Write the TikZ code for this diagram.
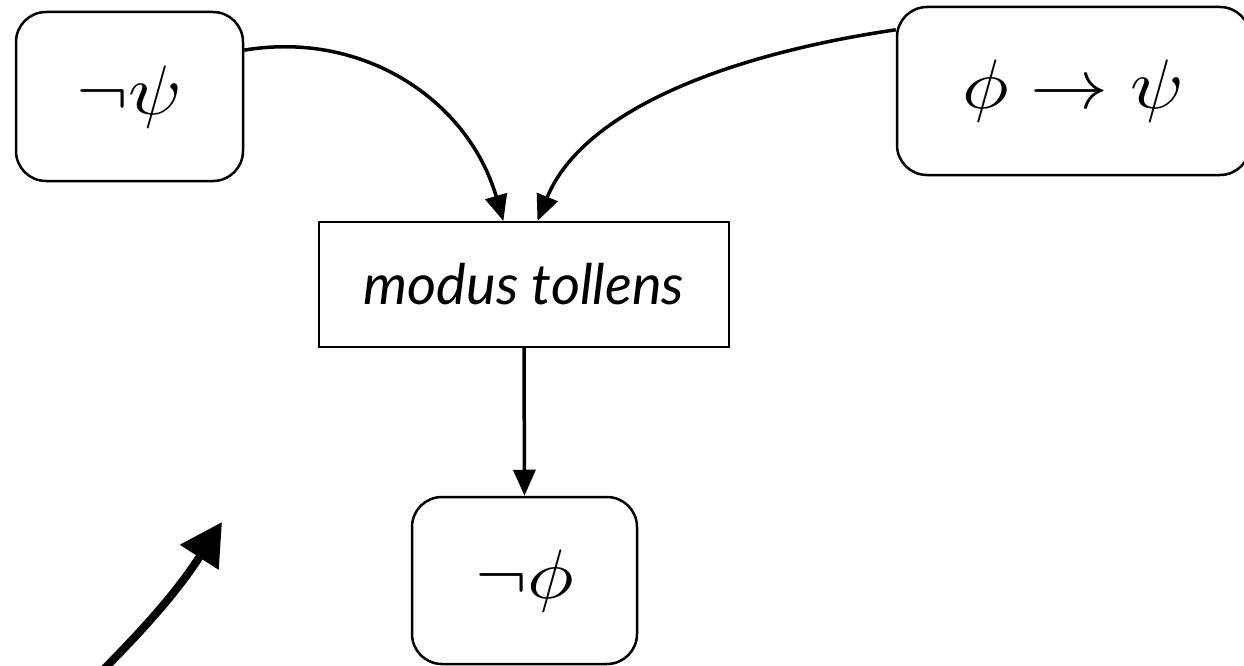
\documentclass[tikz,border=0pt]{standalone}
\usepackage{fontspec}
\usepackage{graphicx}
\newfontfamily\labelfont{Lato}
\usetikzlibrary{arrows.meta}
\begin{document}
\begin{tikzpicture}[x=1pt,y=1pt,
  rbox/.style={draw, line width=2.5pt, rounded corners=30pt, inner sep=0pt},
  sbox/.style={draw, line width=2pt, inner sep=0pt},
  conn/.style={line width=3.5pt, -{Triangle[length=26pt,width=22pt]}},
  bigarrow/.style={line width=8pt, -{Triangle[length=42pt,width=44pt]}}]
\useasboundingbox (0,0) rectangle (1244,-666);
\node[rbox, minimum width=227pt, minimum height=169pt] (npsi) at (129.5,-96.5) {\scalebox{7.8}[7]{$\neg\psi$}};
\node[rbox, minimum width=353pt, minimum height=168pt] (impl) at (1073.5,-91) {\scalebox{7.8}[7]{$\phi\rightarrow\psi$}\hspace{60pt}};
\node[sbox, minimum width=410pt, minimum height=125pt, font=\labelfont\itshape\fontsize{56}{66}\selectfont] (mt) at (524,-284.5) {modus tollens\hspace{36pt}};
\node[rbox, minimum width=225pt, minimum height=167pt] (nphi) at (524.5,-580.5) {\scalebox{7.8}[7]{$\neg\phi$}};
\draw[conn] (npsi.22) .. controls +(120,20) and +(-35,120) .. (mt.108);
\draw[conn] (impl.161.5) .. controls +(-170,-25) and +(45,110) .. (mt.78);
\draw[conn] (mt.south) -- (nphi.north);
\coordinate (b0) at (103,-670);
\coordinate (b1) at (222,-522);
\draw[bigarrow] (b0) to[bend right=6] (b1);
\end{tikzpicture}
\end{document}
